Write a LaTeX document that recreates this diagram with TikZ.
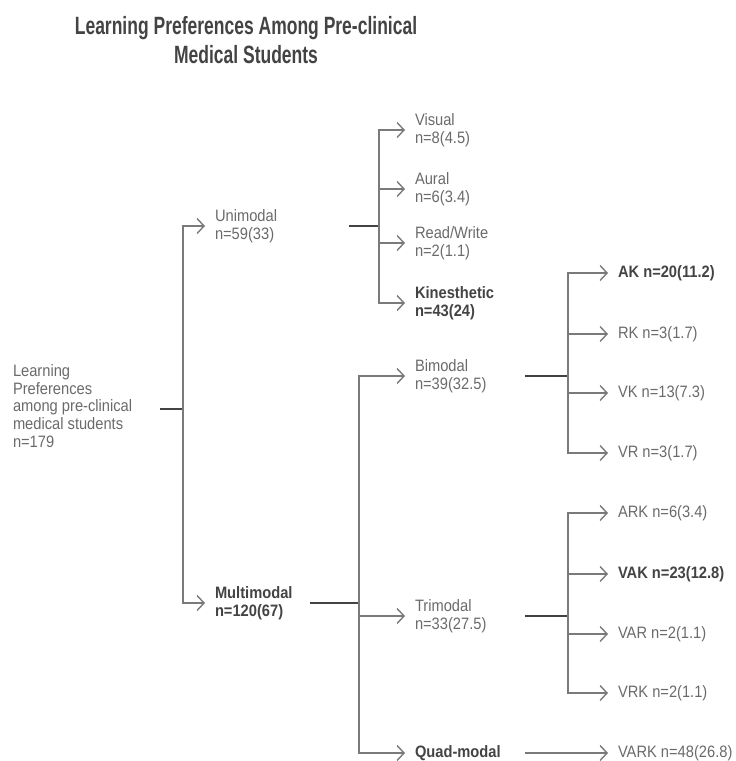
\documentclass[tikz,border=0pt]{standalone}
\usepackage{fontspec}
\setmainfont[FakeStretch=0.89]{Liberation Sans}
\newfontfamily\titlefont[FakeStretch=0.7]{Liberation Sans}
\usetikzlibrary{arrows.meta}
\definecolor{txtgray}{HTML}{6A6A6A}
\definecolor{darkgray}{HTML}{434343}
\definecolor{linegray}{HTML}{7A7A7A}
\tikzset{
  lbl/.style={anchor=west, inner xsep=0pt, outer xsep=10pt, inner ysep=1pt, align=left,
    text=txtgray, font=\fontsize{16.5}{17.8}\selectfont},
  boldlbl/.style={lbl, text=darkgray, font=\fontsize{16.5}{17.8}\selectfont\bfseries},
  link/.style={draw=linegray, line width=1.4pt, -{Straight Barb[length=7pt,width=15pt]}},
  stub/.style={draw=darkgray, line width=2pt}
}
\begin{document}
\begin{tikzpicture}[x=1pt,y=-1pt]
\useasboundingbox (0,0) rectangle (736,761);
% title:
\node[align=center, text=darkgray, font=\titlefont\fontsize{25}{29}\selectfont\bfseries] (title) at (246,40)
  {Learning Preferences Among Pre-clinical\\Medical Students};
% root:
\node[lbl, outer xsep=0pt] (root) at (13,406)
  {Learning\\Preferences\\among pre-clinical\\medical students\\n=179};
\coordinate (j0) at (183,409);
\draw[stub] (160,0 |- j0) -- (j0);
% unimodal / multimodal:
\node[lbl] (uni) at (205,226) {Unimodal\\n=59(33)};
\node[boldlbl] (multi) at (205,603) {Multimodal\\n=120(67)};
\draw[link] (j0) |- (uni.west);
\draw[link] (j0) |- (multi.west);
% unimodal branches:
\coordinate (j1) at (379,226);
\draw[stub] (349,0 |- uni) -- (j1);
\node[lbl] (vis) at (405,130) {Visual\\n=8(4.5)};
\node[lbl] (aur) at (405,189) {Aural\\n=6(3.4)};
\node[lbl] (rw) at (405,243) {Read/Write\\n=2(1.1)};
\node[boldlbl] (kin) at (405,303) {Kinesthetic\\n=43(24)};
\foreach \c in {vis,aur,rw,kin} \draw[link] (j1) |- (\c.west);
% multimodal branches:
\coordinate (j2) at (359,603);
\draw[stub] (310,0 |- multi) -- (j2);
\node[lbl] (bim) at (405,376) {Bimodal\\n=39(32.5)};
\node[lbl] (tri) at (405,616) {Trimodal\\n=33(27.5)};
\node[boldlbl] (quad) at (405,753) {Quad-modal};
\foreach \c in {bim,tri,quad} \draw[link] (j2) |- (\c.west);
% bimodal:
\coordinate (j3) at (568,376);
\draw[stub] (525,0 |- bim) -- (j3);
\node[boldlbl] (ak) at (608,273) {AK n=20(11.2)};
\node[lbl] (rk) at (608,334) {RK n=3(1.7)};
\node[lbl] (vk) at (608,393) {VK n=13(7.3)};
\node[lbl] (vr) at (608,453) {VR n=3(1.7)};
\foreach \c in {ak,rk,vk,vr} \draw[link] (j3) |- (\c.west);
% trimodal:
\coordinate (j4) at (568,616);
\draw[stub] (525,0 |- tri) -- (j4);
\node[lbl] (ark) at (608,513) {ARK n=6(3.4)};
\node[boldlbl] (vak) at (608,574) {VAK n=23(12.8)};
\node[lbl] (var) at (608,634) {VAR n=2(1.1)};
\node[lbl] (vrk) at (608,693) {VRK n=2(1.1)};
\foreach \c in {ark,vak,var,vrk} \draw[link] (j4) |- (\c.west);
% quad-modal:
\node[lbl] (vark) at (608,753) {VARK n=48(26.8)};
\draw[link] (525,0 |- quad) -- (vark.west);
\end{tikzpicture}
\end{document}
